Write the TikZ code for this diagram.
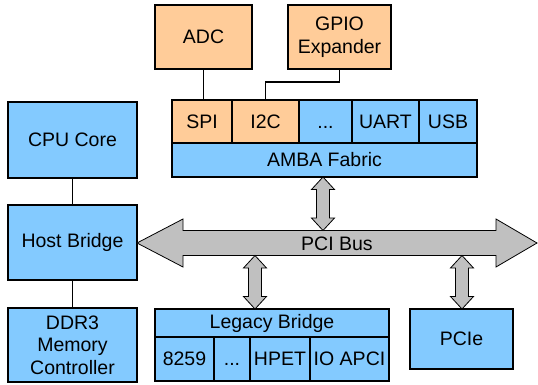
\documentclass[tikz,border=0pt]{standalone}
\usepackage{fontspec}
\setmainfont{Liberation Sans}
\definecolor{boxblue}{HTML}{83CAFF}
\definecolor{boxorange}{HTML}{FFCC99}
\definecolor{busgray}{HTML}{C0C0C0}
\begin{document}
\begin{tikzpicture}[x=1pt,y=-1pt,
  box/.style={draw=black,line width=1.2pt,fill=boxblue,inner sep=0pt,outer sep=0pt,align=center,
    font=\fontsize{19.5}{22.5}\selectfont},
  obox/.style={box,fill=boxorange},
  wire/.style={line width=1.2pt},
  busarrow/.style={draw=black,line width=0.8pt,fill=busgray}]
\useasboundingbox (0,0) rectangle (538,385);
% top peripherals
\node[obox,minimum width=97pt,minimum height=64pt] (adc) at (203.5,37) {ADC};
\node[obox,minimum width=103pt,minimum height=64pt] (gpio) at (339.5,37) {GPIO\\Expander};
% AMBA row
\node[obox,minimum width=60pt,minimum height=43pt] (spi) at (202,121.5) {SPI};
\node[obox,minimum width=67pt,minimum height=43pt] (i2c) at (265.5,121.5) {I2C};
\node[box,minimum width=53pt,minimum height=43pt] (dots1) at (325.5,121.5) {\vphantom{A}...};
\node[box,minimum width=67pt,minimum height=43pt] (uart) at (385.5,121.5) {UART};
\node[box,minimum width=58pt,minimum height=43pt] (usb) at (448,121.5) {USB};
\node[box,minimum width=305pt,minimum height=34pt] (amba) at (324.5,160) {AMBA Fabric};
% left column
\node[box,minimum width=129pt,minimum height=76pt] (cpu) at (72.5,140) {CPU Core};
\node[box,minimum width=129pt,minimum height=75pt] (host) at (72.5,242.5) {Host Bridge};
\node[box,minimum width=129pt,minimum height=74pt] (ddr) at (72.5,345) {DDR3\\Memory\\Controller};
% legacy bridge
\node[box,minimum width=234pt,minimum height=28pt] (legacy) at (272,323) {Legacy Bridge};
\node[box,minimum width=59pt,minimum height=44pt] (i8259) at (184.5,359) {8259};
\node[box,minimum width=36pt,minimum height=44pt] (dots2) at (232,359) {\vphantom{8}...};
\node[box,minimum width=60pt,minimum height=44pt] (hpet) at (280,359) {HPET};
\node[box,minimum width=79pt,minimum height=44pt] (ioapic) at (349.5,359) {IO APCI};
% PCIe
\node[box,minimum width=103pt,minimum height=60pt] (pcie) at (461.5,339) {PCIe};
% wires
\draw[wire] (adc.south) -- (adc.south |- spi.north);
\draw[wire] (gpio.south) -- ++(0,13) -| (i2c.north);
\draw[wire] (cpu.south) -- (host.north);
\draw[wire] (host.south) -- (ddr.north);
% PCI bus
\coordinate (busL) at (137,243);
\coordinate (busR) at (537,243);
\draw[busarrow] (busL) -- (183,219) -- (183,230.5) -- (496,230.5) -- (496,219) -- (busR)
  -- (496,267) -- (496,255.5) -- (183,255.5) -- (183,267) -- cycle;
\node[font=\fontsize{19.5}{22.5}\selectfont,inner sep=0pt] (bus) at (337,244) {PCI Bus};
% vertical double arrows
\newcommand{\vdarrow}[3]{%
  \draw[busarrow] (#1,#2) -- (#1+11.5,#2+12.5) -- (#1+6.5,#2+12.5) -- (#1+6.5,#3-12.5)
    -- (#1+11.5,#3-12.5) -- (#1,#3) -- (#1-11.5,#3-12.5) -- (#1-6.5,#3-12.5)
    -- (#1-6.5,#2+12.5) -- (#1-11.5,#2+12.5) -- cycle;}
\vdarrow{323}{177}{230.5}
\vdarrow{255}{255.5}{309}
\vdarrow{462}{255.5}{309}
\end{tikzpicture}
\end{document}
